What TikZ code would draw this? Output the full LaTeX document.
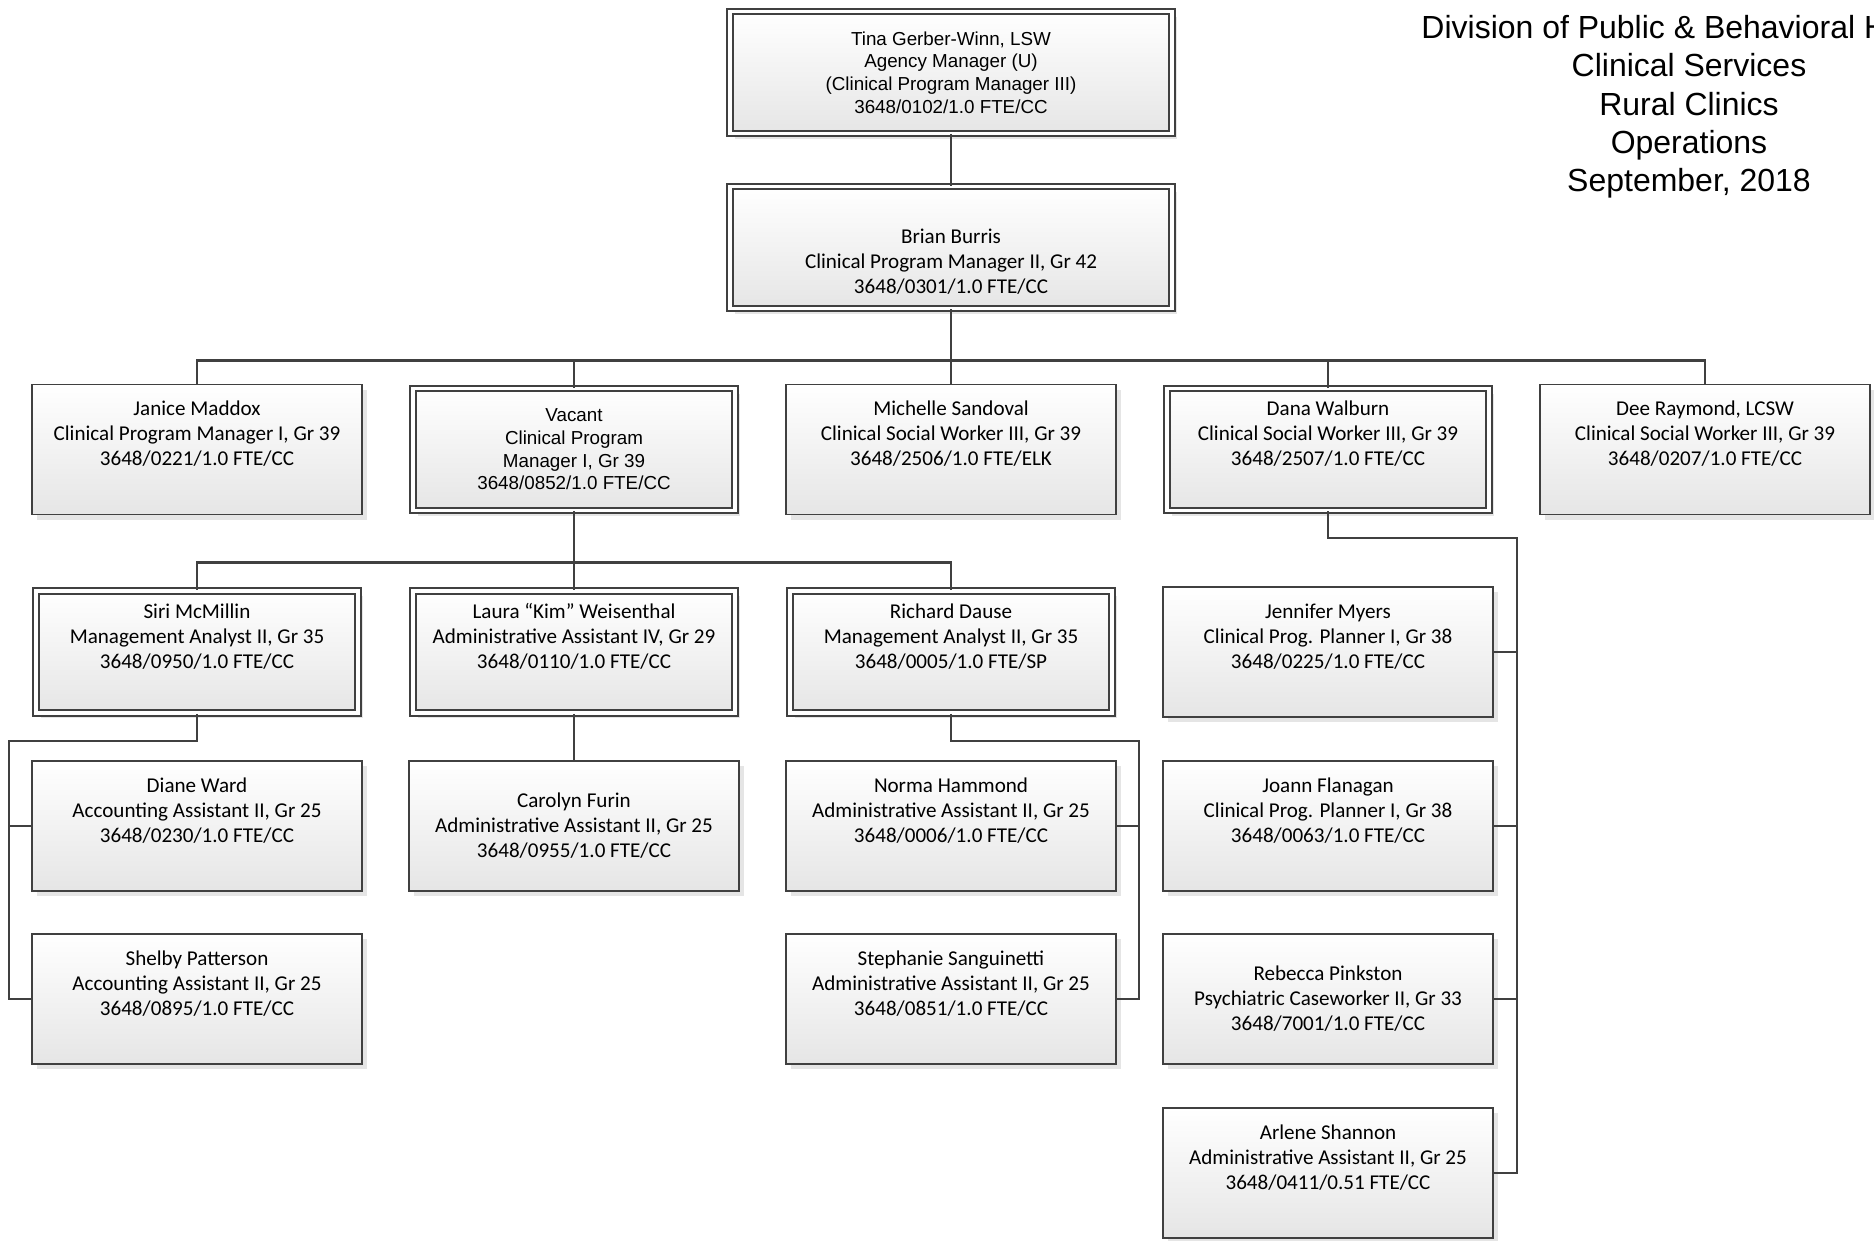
\documentclass[tikz,border=0pt]{standalone}
\usepackage{fontspec}
\setmainfont{Carlito}
\newfontfamily\arialfont{Liberation Sans}
\usetikzlibrary{positioning,calc,shadows}
\tikzstyle{post} = [draw=black!75, line width=.55pt, shape=rectangle, top color=white, bottom color=black!10, drop shadow={shadow xshift=1.5pt, shadow yshift=-1.5pt, fill=black!20}, minimum width=3.3cm, minimum height=1.3cm, inner sep=1pt, align=center, font=\fontsize{6}{7.1}\selectfont]
\tikzstyle{lead} = [post, double=white, double distance=1.1pt, minimum width=3.22cm, minimum height=1.22cm]
\tikzstyle{chief} = [lead, minimum width=4.42cm]
\tikzstyle{arial} = [font=\arialfont\fontsize{5.35}{6.45}\selectfont]
\tikzstyle{Line} = [draw=black!75, line width=.8pt]

\begin{document}
\begin{tikzpicture}
            \path[use as bounding box, fill=white] (0,0) rectangle (18.74,-12.40);
            %%%%% Title %%%%%
            \node (title) [align=center, font=\arialfont\fontsize{9.1}{10.9}\selectfont] at (16.89,-1.07) {Division of Public \& Behavioral Health\\Clinical Services\\Rural Clinics\\Operations\\September, 2018};
            %%%%% Top %%%%%
            \node (tina) [chief, arial] at (9.51,-.725) {Tina Gerber-Winn, LSW\\Agency Manager (U)\\(Clinical Program Manager III)\\3648/0102/1.0 FTE/CC};
            \node (brian) [chief] at (9.51,-2.475) {\strut\\Brian Burris\\Clinical Program Manager II, Gr 42\\3648/0301/1.0 FTE/CC};
            \draw [Line] (tina) -- (brian);
            %%%%% First row %%%%%
            \node (janice) [post] at (1.97,-4.495) {Janice Maddox\\Clinical Program Manager I, Gr 39\\3648/0221/1.0 FTE/CC\\\strut};
            \node (vacant) [lead, arial] at ($(janice) + (3.77,0)$) {Vacant\\Clinical Program\\Manager I, Gr 39\\3648/0852/1.0 FTE/CC};
            \node (michelle) [post] at ($(vacant) + (3.77,0)$) {Michelle Sandoval\\Clinical Social Worker III, Gr 39\\3648/2506/1.0 FTE/ELK\\\strut};
            \node (dana) [lead] at ($(michelle) + (3.77,0)$) {Dana Walburn\\Clinical Social Worker III, Gr 39\\3648/2507/1.0 FTE/CC\\\strut};
            \node (dee) [post] at ($(dana) + (3.77,0)$) {Dee Raymond, LCSW\\Clinical Social Worker III, Gr 39\\3648/0207/1.0 FTE/CC\\\strut};
            \coordinate (bus) at ($(brian.south) + (0,-.51)$);
            \draw [Line] (brian) -- (bus);
            \foreach \n in {janice,vacant,michelle,dana,dee}
                \draw [Line] (bus) -| (\n);
            %%%%% Second row %%%%%
            \node (siri) [lead] at ($(janice) + (0,-2.025)$) {Siri McMillin\\Management Analyst II, Gr 35\\3648/0950/1.0 FTE/CC\\\strut};
            \node (laura) [lead] at ($(vacant) + (0,-2.025)$) {Laura “Kim” Weisenthal\\Administrative Assistant IV, Gr 29\\3648/0110/1.0 FTE/CC\\\strut};
            \node (richard) [lead] at ($(michelle) + (0,-2.025)$) {Richard Dause\\Management Analyst II, Gr 35\\3648/0005/1.0 FTE/SP\\\strut};
            \coordinate (vbus) at ($(vacant.south) + (0,-.51)$);
            \draw [Line] (vacant) -- (vbus);
            \foreach \n in {siri,laura,richard}
                \draw [Line] (vbus) -| (\n);
            %%%%% Under Siri %%%%%
            \node (diane) [post] at ($(siri) + (0,-1.74)$) {Diane Ward\\Accounting Assistant II, Gr 25\\3648/0230/1.0 FTE/CC\\\strut};
            \node (shelby) [post] at ($(diane) + (0,-1.73)$) {Shelby Patterson\\Accounting Assistant II, Gr 25\\3648/0895/1.0 FTE/CC\\\strut};
            \coordinate (sbend) at (.09,-7.41);
            \draw [Line] (siri.south) |- (sbend) |- (shelby.west);
            \draw [Line] (sbend) |- (diane.west);
            %%%%% Under Laura %%%%%
            \node (carolyn) [post] at ($(laura) + (0,-1.74)$) {Carolyn Furin\\Administrative Assistant II, Gr 25\\3648/0955/1.0 FTE/CC};
            \draw [Line] (laura) -- (carolyn);
            %%%%% Under Richard %%%%%
            \node (norma) [post] at ($(richard) + (0,-1.74)$) {Norma Hammond\\Administrative Assistant II, Gr 25\\3648/0006/1.0 FTE/CC\\\strut};
            \node (stephanie) [post] at ($(norma) + (0,-1.73)$) {Stephanie Sanguinetti\\Administrative Assistant II, Gr 25\\3648/0851/1.0 FTE/CC\\\strut};
            \coordinate (rbend) at (11.39,-7.41);
            \draw [Line] (richard.south) |- (rbend) |- (stephanie.east);
            \draw [Line] (rbend) |- (norma.east);
            %%%%% Under Dana %%%%%
            \node (jennifer) [post] at ($(dana) + (0,-2.025)$) {Jennifer Myers\\Clinical Prog. Planner I, Gr 38\\3648/0225/1.0 FTE/CC\\\strut};
            \node (joann) [post] at ($(jennifer) + (0,-1.74)$) {Joann Flanagan\\Clinical Prog. Planner I, Gr 38\\3648/0063/1.0 FTE/CC\\\strut};
            \node (rebecca) [post] at ($(joann) + (0,-1.73)$) {Rebecca Pinkston\\Psychiatric Caseworker II, Gr 33\\3648/7001/1.0 FTE/CC};
            \node (arlene) [post] at ($(rebecca) + (0,-1.74)$) {Arlene Shannon\\Administrative Assistant II, Gr 25\\3648/0411/0.51 FTE/CC\\\strut};
            \coordinate (dbend) at (15.17,-5.38);
            \draw [Line] (dana.south) |- (dbend) |- (arlene.east);
            \foreach \n in {jennifer,joann,rebecca}
                \draw [Line] (dbend) |- (\n.east);
\end{tikzpicture}
\end{document}
